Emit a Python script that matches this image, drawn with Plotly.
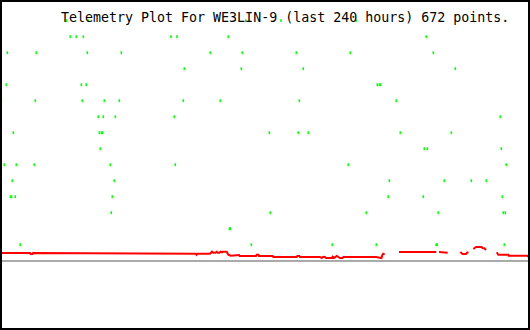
import plotly.graph_objects as go

# ---- data ----
title_text = "Telemetry Plot For WE3LIN-9 (last 240 hours) 672 points."

# green telemetry samples: hours since start, value
green_hours = [
    30.20, 39.98, 111.26, 127.25, 161.21,
    31.83, 34.55, 37.72, 77.43, 80.15, 103.38, 193.04,
    3.31, 16.44, 39.53, 54.93, 95.23, 109.72, 134.17, 158.63, 196.21,
    83.46, 109.27, 137.34, 206.17,
    2.85, 36.82, 39.08, 170.85, 171.85, 172.30,
    0.59, 15.98, 37.27, 47.23, 54.02, 83.00, 99.76, 135.53, 179.46,
    44.51, 46.78, 52.21, 78.93, 226.55,
    6.02, 44.97, 45.96, 46.42, 121.95, 135.08, 139.61, 181.27, 204.36,
    45.42, 192.14, 193.49, 227.00,
    1.95, 7.38, 15.53, 49.95, 79.38, 157.72, 229.27,
    5.57, 51.76, 176.29, 201.19, 213.42, 220.21,
    4.75, 5.21, 6.93, 50.85, 175.83, 191.68, 227.46,
    50.40, 122.40, 165.87, 198.47, 227.91, 228.82,
    103.92, 104.38,
    9.19, 113.80, 150.47, 170.40, 197.52, 197.98, 228.36,
]
green_values = (
    [240] * 5 + [224] * 7 + [208] * 9 + [192] * 4 + [176] * 6 +
    [160] * 9 + [144] * 5 + [128] * 9 + [112] * 4 + [96] * 7 +
    [80] * 6 + [64] * 7 + [48] * 6 + [32] * 2 + [16] * 7
)

# red telemetry trace (None = gap in data)
red_hours = [
    0.45, 13.58, 13.90, 14.63, 14.94, 61.13, 61.36, 88.75, 88.98, 89.43,
    95.09, 95.55, 96.00, 96.59, 97.49, 98.13, 98.58, 99.31, 99.85, 100.53,
    100.85, 102.66, 103.02, 103.38, 104.47, 106.42, 106.87, 108.23, 108.54, 115.92,
    116.24, 117.06, 117.28, 123.49, 123.76, 134.35, 134.63, 135.53, 135.85, 144.91,
    145.67, 146.40, 147.17, 147.62, 148.66, 150.20, 150.66, 151.38, 152.47, 153.19,
    153.96, 155.18, 155.46, 170.26, 172.08, 172.75, 173.12, 173.57, 174.20,
    None,
    180.68, 187.02, 187.25, 190.19, 190.41, 197.57,
    None,
    198.79, 201.51, 201.74, 202.73,
    None,
    208.44, 208.98, 209.43, 211.02, 211.47, 212.15,
    None,
    214.32, 214.96, 215.55, 218.13, 218.49, 219.31, 220.08,
    None,
    224.92, 225.64, 230.18, 230.35, 238.77, 239.23,
]
red_values = [
    7.7, 7.7, 6.7, 6.7, 7.7, 7.7, 7.0, 7.0, 6.0, 7.0,
    7.0, 8.4, 9.0, 8.0, 8.0, 9.0, 8.0, 8.0, 9.0, 8.4,
    9.0, 9.0, 7.7, 6.0, 5.0, 5.0, 5.7, 5.7, 4.7, 4.7,
    6.0, 6.0, 4.7, 4.7, 3.7, 3.7, 4.7, 4.7, 3.7, 3.7,
    2.7, 4.0, 3.7, 2.7, 2.7, 2.7, 4.0, 3.0, 4.7, 3.7,
    2.7, 2.7, 3.7, 3.7, 3.2, 2.7, 5.7, 7.0, 6.4,
    None,
    8.7, 8.7, 8.0, 8.0, 8.7, 8.7,
    None,
    8.7, 8.7, 8.0, 8.0,
    None,
    8.7, 7.4, 6.7, 6.7, 8.0, 8.4,
    None,
    11.7, 13.0, 13.7, 13.7, 12.7, 12.4, 10.7,
    None,
    8.4, 6.0, 6.0, 5.0, 5.0, 4.0,
]

# ---- figure ----
fig = go.Figure()
fig.add_trace(go.Scatter(
    x=green_hours, y=green_values, mode="markers",
    marker=dict(symbol="line-ns", size=2, color="#00ff00",
                line=dict(width=1.6, color="#00ff00")),
    hoverinfo="skip", showlegend=False,
))
fig.add_trace(go.Scatter(
    x=red_hours, y=red_values, mode="lines",
    line=dict(color="#ff0000", width=2),
    connectgaps=False, hoverinfo="skip", showlegend=False,
))

fig.update_layout(
    width=530, height=330,
    margin=dict(l=0, r=0, t=0, b=0),
    paper_bgcolor="white", plot_bgcolor="white",
    xaxis=dict(range=[0, 240], showgrid=False, zeroline=False,
               showticklabels=False, ticks="", showline=False, fixedrange=True),
    yaxis=dict(range=[-69.3, 260.7], showgrid=False, zeroline=True,
               zerolinecolor="#aaaaaa", zerolinewidth=2,
               showticklabels=False, ticks="", showline=False, fixedrange=True),
    shapes=[dict(type="rect", xref="paper", yref="paper", x0=0, x1=1, y0=0, y1=1,
                 line=dict(color="black", width=4), layer="above")],
    annotations=[dict(
        text=title_text, xref="paper", yref="paper",
        x=58.5 / 530, y=1 - 8 / 330, xanchor="left", yanchor="top",
        showarrow=False,
        font=dict(family="DejaVu Sans Mono", size=13.3, color="black"),
    )],
)

fig.write_html("out.html", config={"displayModeBar": False})
